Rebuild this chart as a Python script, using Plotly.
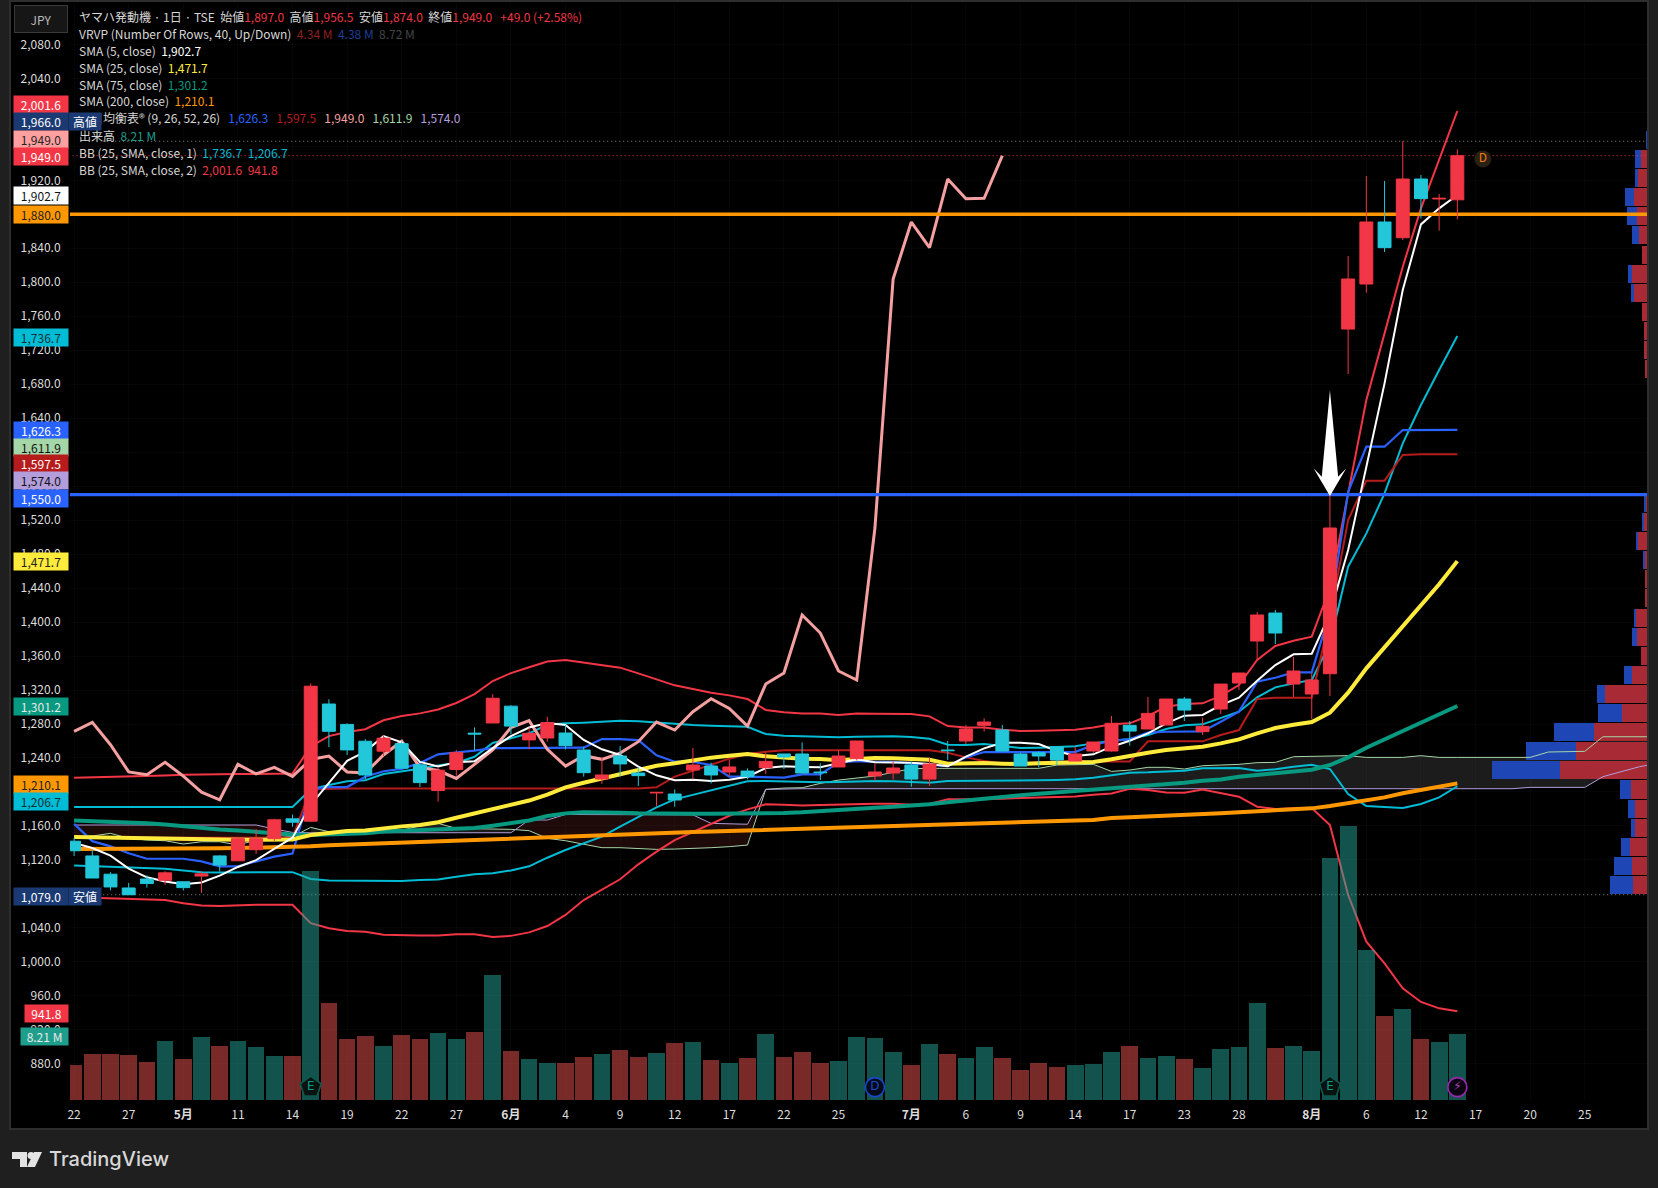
import plotly.graph_objects as go

# ---------- data (index 0 = first visible session) ----------
tick_index = [0,3,6,9,12,15,18,21,24,27,30,33,36,39,42,46,49,52,55,58,61,64,68,71,74,77,80,83]
tick_text = ["22","27","<b>5月</b>","11","14","19","22","27","<b>6月</b>","4","9","12","17","22","25","<b>7月</b>","6","9","14","17","23","28","<b>8月</b>","6","12","17","20","25"]
price_ticks = [880,920,960,1000,1040,1080,1120,1160,1200,1240,1280,1320,1360,1400,1440,1480,1520,1560,1600,1640,1680,1720,1760,1800,1840,1880,1920,1960,2000,2040,2080]

highs = [1146,1132,1105.6,1093,1102,1106.8,1094.3,1106.8,1125.5,1147,1156.3,1168.4,1173.3,1327.8,1309,1280.7,1262.5,1266.6,1259.7,1233.3,1228.4,1249.5,1275.9,1315.2,1302.2,1275.9,1288.6,1279,1253.3,1240.7,1254,1229,1199.5,1203,1251.7,1234.5,1237.6,1227.8,1246.2,1244.7,1258.4,1233.7,1249.4,1260,1233.7,1236,1235.6,1240.7,1260,1278.8,1286.7,1278.8,1246.2,1247.8,1253.3,1253.3,1258.8,1289.4,1283.5,1311.8,1309.4,1311.8,1287.4,1327,1340,1411.8,1414.2,1358.8,1340,1552,1830.9,1925,1919.1,1966,1926.2,1903.8,1956.5]
lows = [1124.7,1098.7,1084.1,1079,1087.4,1091,1084,1081.3,1106.4,1119,1127,1142,1159,1164.4,1252.8,1243.5,1215,1242.2,1227.2,1205.8,1188.7,1219.1,1248.7,1281.2,1267.8,1250.3,1259.2,1250.2,1218,1209.4,1218,1207,1183.5,1182.7,1214.8,1210,1218.8,1214.8,1221.1,1227,1222.3,1214.1,1229.4,1237.2,1213.3,1214.8,1206.2,1207,1237.6,1256.4,1271,1248.2,1230.5,1229,1231.7,1236.4,1246.2,1247.4,1254.5,1274.1,1278.8,1283.5,1267,1291.7,1320,1355.3,1374.1,1311.8,1285.8,1312.9,1691.9,1787.7,1835.6,1849.7,1875,1860.7,1874]
body_top = [1142,1124.7,1103.2,1087,1097.5,1104.8,1094.3,1103.6,1124.7,1145,1145,1167.2,1168.4,1324.5,1303.5,1279.5,1259.7,1263.3,1256.8,1232,1225.6,1246.3,1269.2,1310.3,1301,1269,1281.6,1269.4,1249.4,1220,1242.3,1222.3,1199.5,1197.6,1231.7,1230.5,1229.4,1224.6,1236,1244.7,1244.7,1223.5,1242.3,1260,1223.5,1228.2,1231.7,1232.9,1249.4,1274.1,1282.3,1272.9,1244.7,1246.2,1253.3,1244.7,1258.8,1280.8,1278.4,1292.5,1309.4,1309.4,1277.2,1327,1340,1408.3,1410.6,1342.4,1331.8,1510.7,1803.8,1870.9,1870.9,1921.5,1921.5,1898.8,1949]
body_bot = [1130.8,1098.7,1088.2,1079,1092.2,1096,1087.4,1101,1114,1119,1132,1145,1164.4,1165.6,1271.4,1249.5,1220,1248,1228,1211,1201.7,1226.4,1268.2,1281.2,1277.5,1261.3,1263.5,1254.5,1222.7,1215.2,1233,1219.2,1198.8,1190.5,1225.8,1220,1223.5,1218,1228.6,1241.1,1222.3,1222.7,1229.4,1239.2,1218.8,1222.3,1215.2,1215.2,1248.6,1260,1278.4,1248.2,1230.5,1242.3,1237.6,1236.4,1248.2,1248.2,1271.7,1274.1,1278.8,1296.4,1271,1297.6,1328.2,1377.7,1387.1,1327,1315.3,1339.2,1744.9,1797.9,1840.7,1852.4,1898.4,1898,1897]
candle_up = [0,0,0,0,0,1,0,1,0,1,1,1,0,1,0,0,0,1,0,0,1,1,0,1,0,1,1,0,0,1,0,0,1,0,1,0,1,0,1,0,0,0,1,1,1,1,0,1,0,1,1,0,0,0,0,1,1,1,0,1,1,0,1,1,1,1,0,1,1,1,1,1,0,1,0,1,1]

volume_m = [4.37,5.78,5.78,5.65,4.76,7.37,5.14,7.88,6.77,7.28,6.64,5.53,5.53,28.5,12.1,7.63,8.01,6.77,8.14,7.63,8.27,7.63,8.40,15.5,6.13,5.14,4.63,4.60,5.35,5.72,6.22,5.35,5.85,7.09,7.22,4.98,4.60,5.23,8.21,5.35,5.97,4.60,4.85,7.84,7.71,5.97,4.35,6.97,5.72,5.23,6.59,5.23,3.73,4.60,4.11,4.35,4.48,5.97,6.72,5.23,5.47,5.10,3.98,6.34,6.59,12.07,6.47,6.72,6.10,30.1,34.1,18.66,10.45,11.32,7.59,7.22,8.21]
volume_up = [1,1,1,1,1,0,1,0,1,0,0,0,1,0,1,1,1,0,1,1,0,0,1,0,1,0,0,1,1,0,1,1,0,1,0,1,0,1,0,1,1,1,0,0,0,0,1,0,1,0,0,1,1,1,1,0,0,0,1,0,0,1,0,0,0,0,1,0,0,0,0,0,1,0,1,0,0]

sma5 = [1140,1134,1125.1,1109.7,1099.5,1094.7,1091.4,1093.4,1101.5,1111.7,1119.8,1132.8,1146.2,1184.7,1211,1236.6,1247.5,1265.7,1258.5,1235.3,1230,1234.9,1236.2,1251.6,1265.7,1275.9,1281.2,1278.8,1261.2,1250.2,1243.5,1229.8,1219.6,1213.7,1214.5,1212.9,1214.5,1218,1228.2,1230.2,1229.4,1229,1233.7,1238.4,1234.9,1234.9,1234.5,1232.9,1230.2,1241.5,1251.3,1258,1258,1256.4,1248.2,1242.3,1244.3,1253.3,1260.3,1269,1280.8,1289.8,1290.6,1302.3,1311,1331,1349.4,1362,1362.8,1410,1484.8,1582.9,1681,1790.8,1868.1,1887,1902.7]
sma25 = [1147,1146.6,1146.2,1145.8,1145.3,1144.5,1143.7,1143.3,1143.3,1143.7,1143.7,1143.7,1144.1,1149.4,1152.2,1153.9,1154.7,1157.5,1159.5,1161.2,1164.4,1169.7,1174.5,1179.8,1184.7,1189.9,1196.8,1205.4,1210.9,1216,1221.1,1226.6,1230.9,1233.7,1237.2,1240.4,1242.7,1244.7,1241.9,1240,1239.2,1238.8,1237.2,1238.8,1240,1239.6,1238.8,1238,1233.3,1234.1,1234.1,1233.3,1232.9,1233.7,1234.1,1234.5,1235.3,1238.4,1242.7,1246.2,1249.4,1251.7,1253.3,1257.2,1261.9,1269,1275.3,1279.2,1282.3,1293.3,1316.9,1345.5,1369.8,1395.3,1420,1444.4,1471.7]
sma75 = [1166.4,1165.6,1164.8,1164.4,1163.2,1161.6,1159.5,1157.5,1155.9,1154.7,1153,1151.4,1149.8,1149.4,1149.8,1150.6,1151.4,1153.5,1154.3,1155.5,1155.9,1156.3,1157.5,1160.3,1163.6,1166.4,1171.7,1174.8,1176,1176,1175.6,1174.8,1174.4,1174.4,1174.4,1174.4,1174.4,1174.4,1174.4,1175.2,1176,1177.6,1179.1,1180.3,1181.5,1182.7,1183.8,1185.4,1187.8,1190.1,1192.1,1194,1196,1198,1199.5,1201.1,1202.7,1204.6,1206.2,1207.8,1209.3,1210.9,1213.3,1214.8,1218,1220.3,1222.3,1224.2,1226.2,1231.7,1240.7,1252.1,1261.9,1272.1,1282.3,1292.5,1301.2]
sma200 = [1132.8,1132.8,1132.8,1133.2,1133.2,1133.2,1133.2,1133.6,1133.6,1134,1134.4,1134.8,1135.2,1136,1137.2,1138,1138.9,1140.1,1140.9,1141.7,1142.1,1142.9,1143.7,1144.5,1145.3,1146.2,1147,1148.2,1148.8,1149.6,1150.2,1150.8,1151.5,1152.2,1152.8,1153.4,1154,1154.5,1155,1155.8,1156.4,1157,1157.6,1158.3,1159,1159.7,1160.4,1161.1,1161.7,1162.4,1163,1163.6,1164.3,1165,1165.7,1166.3,1167,1169.4,1170.2,1171,1171.9,1172.7,1173.6,1174.9,1176.2,1177.6,1178.7,1179.7,1180.7,1183.4,1186.6,1189.7,1193.6,1198.4,1202.3,1206.2,1210.1]
tenkan = [1162.4,1142.1,1136,1127.9,1121.4,1121.4,1121.4,1118.2,1112.5,1112.5,1117.8,1123.9,1127.5,1202.9,1205.8,1205.8,1217.9,1224.4,1227.2,1234.1,1244.3,1246.3,1248.7,1251.6,1251.6,1251.6,1251.6,1252.1,1252.1,1262.3,1262.3,1261.1,1243.1,1235.6,1235.3,1231.7,1218,1218,1217.2,1216.8,1220.7,1220.7,1234.9,1236.4,1235.3,1235.3,1233.7,1231.7,1230.5,1240.7,1247,1247,1246.6,1247,1247,1247,1255.3,1260.3,1261.9,1269.8,1270.9,1270.9,1271.3,1282.7,1294.5,1329.8,1334.5,1340.8,1340.8,1411.8,1553.4,1606.4,1606.4,1626,1626.3,1626.3,1626.3]
kijun = [1146.2,1146.2,1146.2,1146.2,1146.2,1146.2,1146.2,1146.2,1146.2,1146.2,1146.2,1146.2,1146.2,1203.3,1204,1204,1204,1204,1204,1204,1204,1204,1204,1204,1204,1204,1204,1204,1204,1204,1204,1204,1205.4,1218,1225,1231.7,1239.2,1244.7,1247.4,1249,1249,1249,1249,1249,1249,1249,1249,1249,1246.2,1240.7,1236.4,1233.7,1234,1235,1236,1236,1236,1236,1236,1259.6,1259.6,1259.6,1259.6,1267,1272.9,1309.4,1311,1311,1311,1406,1520.1,1566.4,1566.4,1596.6,1597.5,1597.5,1597.5]
chikou = [1271.4,1282,1255.6,1223.6,1220.3,1235,1218.7,1199.7,1190.8,1232.5,1221.2,1228.9,1218.3,1238.2,1242.2,1223.6,1222.4,1243.5,1259.7,1228.9,1225.2,1215.9,1232.5,1249.5,1275.9,1284,1250.2,1230.5,1242.7,1238.4,1245.8,1259.2,1282.3,1272.9,1294.5,1309.8,1298.4,1277.6,1327,1340,1408.3,1387.1,1342.4,1331.8,1510.7,1803.8,1870.9,1840.7,1921.5,1898.4,1898.8,1949]
senkou_a = [1147.3,1148.1,1151.3,1145.4,1143.4,1142.6,1138.7,1141.4,1141.4,1137.5,1143.4,1149.3,1147.3,1158.3,1153.2,1152.3,1153,1153.8,1155,1160,1163,1157.1,1156.8,1156.4,1156,1154.4,1145.4,1142.6,1138.7,1134.4,1134.4,1133.6,1132.4,1132.8,1133.2,1134.4,1135.6,1137.5,1203.1,1204.6,1205,1210.1,1214,1216,1218.8,1223.1,1227.4,1227.8,1227.8,1227.8,1227.8,1227.8,1227.8,1227.8,1231.7,1232.1,1232.5,1224.2,1225.8,1229,1229,1227,1230.9,1231.7,1232.5,1234.5,1234.8,1241.5,1241.9,1242.7,1242.7,1240.7,1240.7,1240.7,1242.7,1240.7,1240.7,1240.7,1240.7,1240.7,1240.7,1247,1247.4,1247.8,1265,1265,1265,1265]
senkou_b = [1161.1,1161.1,1161.1,1161.1,1161.1,1161.1,1161.1,1161.1,1161.1,1161.1,1161.1,1156.4,1152.4,1152,1152,1152,1152,1152,1152,1152,1152,1152,1152,1152,1152,1167,1167,1173.5,1173.5,1173.5,1173.5,1173.5,1173.5,1173.5,1173,1163,1162.5,1162,1203,1203.8,1203.8,1203.8,1203.8,1203.8,1203.8,1203.8,1203.8,1203.8,1203.8,1203.8,1203.8,1203.8,1203.8,1203.8,1203.8,1203.8,1203.8,1203.8,1203.8,1203.8,1203.8,1203.8,1203.8,1203.8,1203.8,1203.8,1203.8,1203.8,1203.8,1203.8,1203.8,1203.8,1203.8,1203.8,1203.8,1203.8,1203.8,1203.8,1203.8,1203.8,1205.4,1205.4,1205.4,1205.4,1218,1223.9,1229.7,1233.7]
bb1_upper = [1182.2,1182.2,1182.4,1182.4,1182.6,1182.6,1182.6,1182.6,1182.6,1182.8,1182.8,1182.8,1182.2,1202.9,1208.2,1212.6,1213.9,1221.2,1224.4,1227.2,1231.3,1234.1,1241.4,1257.6,1263.3,1269,1279,1280.8,1281.6,1282.7,1283.9,1283.1,1281.6,1280,1278.8,1278,1277.6,1276.8,1268.2,1266.2,1265.5,1265.1,1264.3,1265.1,1265.5,1265.5,1264.7,1262.7,1255.7,1255.3,1256.4,1254.1,1251.7,1252.1,1252.9,1253.7,1257.2,1260.3,1262.3,1267,1274.1,1278.4,1279.6,1286.6,1294.5,1311.4,1323.1,1327.8,1331.8,1374.9,1465.2,1504.4,1551.5,1610.3,1655.5,1696.7,1736.7]
bb1_lower = [1113.3,1112.5,1111.3,1110.5,1110.1,1109.7,1107.6,1105.6,1105.2,1105.6,1105.2,1105.6,1105.6,1097.5,1095.9,1095.5,1095.1,1094.7,1095.1,1096.3,1097.1,1100.3,1103.2,1104.4,1107.6,1112.5,1122.6,1131.7,1139.5,1147.4,1159.1,1170.9,1181.9,1191.3,1196.4,1201.5,1207,1212.5,1212.9,1212.1,1211.3,1211.3,1211.7,1212.5,1212.9,1212.5,1211.3,1210.9,1212.9,1212.9,1212.9,1213.3,1213.7,1213.7,1214.1,1214.9,1216.8,1219.5,1222.7,1223.1,1224.2,1225,1227.8,1228.2,1228.2,1225,1226.6,1229.7,1232.1,1227,1197.6,1183.4,1181.9,1181.1,1185.8,1193.6,1206.7]
bb2_upper = [1216.7,1217.1,1217.9,1218.7,1219.1,1219.5,1220.3,1220.8,1220.8,1221.2,1221.2,1221.6,1221.6,1253.6,1265.7,1270.6,1273.9,1284.4,1289.3,1292.5,1297,1304.7,1315.2,1330.6,1339.9,1346.8,1353.6,1355.3,1352.2,1348.7,1346.3,1339.6,1332.6,1325.5,1321.2,1316.9,1313.7,1309.4,1296.5,1293.7,1292.5,1292.5,1290.6,1292.5,1292.2,1292.2,1291.8,1289,1277.6,1276,1276,1273.3,1271.7,1272.1,1272.5,1273.3,1276,1279.6,1280.8,1289.4,1300.4,1303.5,1304.3,1313,1325.9,1355.3,1371.8,1378,1382.8,1440,1551.5,1661.3,1739.8,1818.3,1887,1943.9,2001.6]
bb2_lower = [1076,1075.2,1075,1074.4,1073.6,1072.8,1069.1,1066.3,1065.9,1066.7,1067.1,1067.1,1067.1,1045.6,1039.5,1036.3,1035.5,1031.8,1031,1031,1031,1032.6,1032.6,1029.4,1030.6,1034.7,1042.2,1055.2,1072.8,1085.4,1097.2,1114.8,1129.7,1143.4,1153.2,1163,1172,1179.5,1185.4,1185,1184.2,1184.6,1185.4,1185.4,1186.2,1186.2,1185,1185.8,1191.3,1191.3,1191.3,1192.1,1192.9,1193.3,1194,1194.8,1196.8,1198.3,1203.8,1202.3,1199.5,1199.1,1203,1199.1,1194.4,1182.7,1179.9,1180.7,1181.1,1161.1,1078.7,1023.8,998.3,968.9,952.8,945.3,941.8]

# volume profile, one row per price bucket
vp_price = [1090.4,1112.9,1135.4,1157.9,1180.4,1202.9,1225.3,1247.8,1270.3,1292.8,1315.3,1337.8,1360.3,1382.8,1405.3,1427.8,1450.2,1472.7,1495.2,1517.7,1540.2,1562.7,1585.2,1607.7,1630.2,1652.7,1675.1,1697.6,1720.1,1742.6,1765.1,1787.6,1810.1,1832.6,1855.1,1877.6,1900,1922.5,1945,1967.5]
vp_up = [14.2,15.3,17.4,11.7,11.7,16.4,87.2,71.2,53.4,25.3,42,15.3,6.4,10.3,11.7,1.4,1.4,1.8,9.3,2.8,1.4,0,0,0,0,0,0,2.5,3.2,3.2,5.3,13.2,15.3,5.3,8.2,10.3,13.2,9.3,6.4,0]
vp_down = [23.1,18.1,8.9,4.6,7.5,11,68,50.2,39.9,24.2,8.2,8.2,0,5,1.4,0,0,2.5,2.1,2.5,1.8,0,0,0,0,0,0,0,0,0,0,3.2,3.9,0,7.1,10,9.3,3.2,6,0.4]

horizontal_levels = [1880, 1550]
session_high, last_close, session_low = 1966, 1949, 1079

assert all(len(a) == 77 for a in [highs,lows,body_top,body_bot,candle_up,volume_m,volume_up,sma5,sma25,sma75,sma200,tenkan,kijun,bb1_upper,bb1_lower,bb2_upper,bb2_lower])
assert len(chikou) == 52 and len(senkou_a) == 88 and len(senkou_b) == 88
assert len(vp_price) == 40 and len(vp_up) == 40 and len(vp_down) == 40

# ---------- styling ----------
W, H = 1658, 1188
L, R, T, B = 70, 1647, 3, 1100
FONT = "Noto Sans CJK JP"
RED, TEAL, CYAN = "#F23645", "#22C7DA", "#00BCD4"
YEL, GRN, ORG, BLUE = "#FFEB3B", "#089981", "#FF9800", "#2962FF"
NAVY = "#1B3A74"
px = lambda v: (v - L) / (R - L)
py = lambda v: (B - v) / (B - T)

idx = list(range(77))
opens = [b if u else t for t, b, u in zip(body_top, body_bot, candle_up)]
closes = [t if u else b for t, b, u in zip(body_top, body_bot, candle_up)]

fig = go.Figure()

# profile on the base subplot so everything else is above it
fig.add_trace(go.Bar(y=vp_price, x=vp_up, orientation="h", width=21.2, marker=dict(color="#A82A34", line_width=0), xaxis="x", yaxis="y"))
fig.add_trace(go.Bar(y=vp_price, x=vp_down, orientation="h", width=21.2, marker=dict(color="#1E47B5", line_width=0), xaxis="x", yaxis="y"))

def cloud(a, b, color):
    # shape in the below layer: under the profile and every trace
    top = [f"{i} {senkou_a[i]}" for i in range(a, b + 1)]
    bot = [f"{i} {senkou_b[i]}" for i in range(b, a - 1, -1)]
    return dict(type="path", xref="x2", yref="y", layer="below", fillcolor=color, line=dict(width=0),
                path="M " + " L ".join(top + bot) + " Z")

clouds = [cloud(0, 12, "#1F0A0A"), cloud(13, 24, "#1C1C1C"), cloud(24, 38, "#1F0A0A"), cloud(38, 87, "#1C1C1C")]

def line(y, color, width, x=None, dash=None):
    fig.add_trace(go.Scatter(x=x if x is not None else list(range(len(y))), y=y, mode="lines",
                             line=dict(color=color, width=width, dash=dash), xaxis="x2", yaxis="y"))

line(senkou_a, "#A5D6A7", 1)
line(senkou_b, "#B39DDB", 1)
line(bb2_upper, RED, 2); line(bb2_lower, RED, 2)
line(bb1_upper, CYAN, 2); line(bb1_lower, CYAN, 2)
line(kijun, "#B71C1C", 2); line(tenkan, BLUE, 2.2)
line(chikou, "#F5A0A0", 3)
line(sma200, ORG, 4); line(sma75, GRN, 4); line(sma25, YEL, 4); line(sma5, "#FFFFFF", 2)
line([horizontal_levels[0]] * 2, ORG, 3.4, x=[-0.3, 87])
line([horizontal_levels[1]] * 2, BLUE, 3.4, x=[-0.3, 87])
line([session_high] * 2, "#8a8a8a", 1, x=[1.6, 87], dash="1px,3px")
line([last_close] * 2, RED, 1, x=[-0.3, 87], dash="1px,3px")
line([session_low] * 2, "#8a8a8a", 1, x=[1.6, 87], dash="1px,3px")

fig.add_trace(go.Candlestick(x=idx, open=opens, high=highs, low=lows, close=closes, whiskerwidth=0,
                             increasing=dict(line=dict(color=RED, width=1), fillcolor=RED),
                             decreasing=dict(line=dict(color=TEAL, width=1), fillcolor=TEAL),
                             xaxis="x2", yaxis="y2"))
fig.add_trace(go.Scatter(x=[77.4], y=[1945], mode="markers+text", text=["D"], textposition="middle center",
                         textfont=dict(color="#F57C00", size=12, family=FONT),
                         marker=dict(size=17, color="#2B2014"), xaxis="x2", yaxis="y2"))

fig.add_trace(go.Bar(x=idx, y=volume_m, width=0.92,
                     marker=dict(color=["rgba(239,83,80,0.5)" if u else "rgba(38,166,154,0.5)" for u in volume_up], line_width=0),
                     xaxis="x2", yaxis="y3"))

def badge(i, label, symbol, fill, edge, txt, size):
    fig.add_trace(go.Scatter(x=[i], y=[1.6], mode="markers+text", text=[label], textposition="middle center",
                             textfont=dict(color=txt, size=12, family="DejaVu Sans"),
                             marker=dict(symbol=symbol, size=size, color=fill, line=dict(color=edge, width=1.6)),
                             xaxis="x2", yaxis="y3"))
badge(13, "E", "pentagon", "#08130F", "#0D5A50", "#0C9C85", 22)
badge(69, "E", "pentagon", "#08130F", "#0D5A50", "#0C9C85", 22)
badge(44, "D", "circle", "#050A18", "#1848CC", "#1848CC", 19)
badge(76, "⚡", "circle", "#0C0412", "#9C27B0", "#AB47BC", 19)

# ---------- page furniture ----------
shapes = [
    dict(type="rect", xref="paper", yref="paper", x0=px(10), x1=px(1648), y0=py(1), y1=py(1129), layer="below",
         fillcolor="#000000", line=dict(color="#2E2E2E", width=2)),
    *clouds,
    dict(type="path", xref="x2", yref="y", fillcolor="#FFFFFF", line=dict(width=0), layer="above",
         path="M 69 1673 L 69.45 1571 L 69.9 1581 L 69 1548.3 L 68.1 1581 L 68.55 1571 Z"),
    # TradingView mark
    dict(type="path", xref="paper", yref="paper", fillcolor="#E3E3E3", line=dict(width=0),
         path=f"M {px(12)} {py(1152)} L {px(27)} {py(1152)} L {px(27)} {py(1167)} L {px(20)} {py(1167)} L {px(20)} {py(1159)} L {px(12)} {py(1159)} Z"),
    dict(type="circle", xref="paper", yref="paper", fillcolor="#E3E3E3", line=dict(width=0),
         x0=px(27.5), x1=px(34.5), y0=py(1152), y1=py(1159)),
    dict(type="path", xref="paper", yref="paper", fillcolor="#E3E3E3", line=dict(width=0),
         path=f"M {px(34)} {py(1152)} L {px(42)} {py(1152)} L {px(35)} {py(1167)} L {px(27)} {py(1167)} Z"),
]

ann = []
def row(y, text):
    ann.append(dict(xref="paper", yref="paper", x=px(76.5), y=py(y), xanchor="left", yanchor="middle", showarrow=False,
                    align="left", text=text, font=dict(family=FONT, size=12, color="#D6D6D6")))
def c(color, s):
    return f'<span style="color:{color}">{s}</span>'
sp = "\u00a0\u00a0"
sp3 = "\u00a0\u00a0\u00a0"
row(16.5, f"ヤマハ発動機 · 1日 · TSE{sp}始値{c(RED,'1,897.0')}{sp}高値{c(RED,'1,956.5')}{sp}安値{c(RED,'1,874.0')}{sp}終値{c(RED,'1,949.0')}{sp3}{c(RED,'+49.0 (+2.58%)')}")
row(33, f"VRVP (Number Of Rows, 40, Up/Down){sp}{c('#8F1F1F','4.34 M')}{sp}{c('#1E3F9A','4.38 M')}{sp}{c('#444444','8.72 M')}")
row(50, f"SMA (5, close){sp}{c('#FFFFFF','1,902.7')}")
row(67, f"SMA (25, close){sp}{c(YEL,'1,471.7')}")
row(84, f"SMA (75, close){sp}{c(GRN,'1,301.2')}")
row(101, f"SMA (200, close){sp}{c(ORG,'1,210.1')}")
row(118, f"一目均衡表® (9, 26, 52, 26){sp3}{c(BLUE,'1,626.3')}{sp3}{c('#B71C1C','1,597.5')}{sp3}{c('#F5A0A0','1,949.0')}{sp3}{c('#A5D6A7','1,611.9')}{sp3}{c('#B39DDB','1,574.0')}")
row(135.5, f"出来高{sp}{c('#1F9E8C','8.21 M')}")
row(152.5, f"BB (25, SMA, close, 1){sp}{c(CYAN,'1,736.7')}{sp}{c(CYAN,'1,206.7')}")
row(169.5, f"BB (25, SMA, close, 2){sp}{c(RED,'2,001.6')}{sp}{c(RED,'941.8')}")

def box(y, text, bg, fg, left=15, right=69):
    ann.append(dict(xref="paper", yref="paper", x=px(right), y=py(y), xanchor="right", yanchor="middle", showarrow=False,
                    width=right - left, height=17, borderpad=0, bgcolor=bg, align="center", text=text,
                    font=dict(family=FONT, size=12, color=fg)))

box(105, "2,001.6", RED, "#FFFFFF")
box(122, "1,966.0", NAVY, "#FFFFFF")
box(139, "1,949.0", "#FFA0A0", "#222222")
box(156, "1,949.0", RED, "#FFFFFF")
box(196, "1,902.7", "#FFFFFF", "#111111")
box(215, "1,880.0", ORG, "#222222")
box(337, "1,736.7", CYAN, "#123038")
box(430, "1,626.3", BLUE, "#FFFFFF")
box(447, "1,611.9", "#A5D6A7", "#111111")
box(464, "1,597.5", "#B71C1C", "#FFFFFF")
box(481, "1,574.0", "#B39DDB", "#111111")
box(498, "1,550.0", BLUE, "#FFFFFF")
box(561, "1,471.7", YEL, "#222222")
box(706, "1,301.2", GRN, "#E8E8E8")
box(784, "1,210.1", ORG, "#222222")
box(801, "1,206.7", CYAN, "#123038")
box(896, "1,079.0", NAVY, "#FFFFFF")
box(1013, "941.8", RED, "#FFFFFF", left=26)
box(1036, "8.21 M", "#1F9E8C", "#E8E8E8", left=22)
box(122, "高値", NAVY, "#FFFFFF", left=70, right=102)
box(896, "安値", NAVY, "#FFFFFF", left=70, right=102)

ann.append(dict(xref="paper", yref="paper", x=px(40.5), y=py(19), xanchor="center", yanchor="middle", showarrow=False,
                width=50, height=24, bgcolor="#161616", bordercolor="#3A3A3A", borderwidth=1, text="JPY",
                font=dict(family=FONT, size=12, color="#BBBBBB")))
ann.append(dict(xref="paper", yref="paper", x=px(47), y=py(1159), xanchor="left", yanchor="middle", showarrow=False,
                text="TradingView", font=dict(family="Inter", size=20, weight=500, color="#D8D8D8")))

grid = "rgba(255,255,255,0.022)"
fig.update_layout(
    width=W, height=H, autosize=False, showlegend=False, barmode="stack", boxgap=0.29, boxgroupgap=0,
    margin=dict(l=L, r=W - R, t=T, b=H - B),
    paper_bgcolor="#1F1F1F", plot_bgcolor="rgba(0,0,0,0)",
    xaxis=dict(range=[R - L, 0], visible=False, fixedrange=True),
    xaxis2=dict(overlaying="x", anchor="y", side="bottom", range=[-0.225, 86.42], tickmode="array", tickvals=tick_index, ticktext=tick_text,
                tickfont=dict(family=FONT, size=12, color="#DDDDDD"), ticks="outside", ticklen=4, tickcolor="rgba(0,0,0,0)",
                showgrid=True, gridcolor=grid, gridwidth=1, zeroline=False, showline=False, rangeslider=dict(visible=False)),
    yaxis=dict(range=[837.4, 2128.7], side="left", tickmode="array", tickvals=price_ticks,
               ticktext=[f"{v:,.1f}" for v in price_ticks], tickfont=dict(family=FONT, size=12, color="#DDDDDD"),
               ticks="outside", ticklen=6, tickcolor="rgba(0,0,0,0)", showgrid=True, gridcolor=grid, zeroline=False, showline=False),
    yaxis2=dict(overlaying="y", range=[837.4, 2128.7], visible=False),
    yaxis3=dict(overlaying="y", range=[0, 136.4], visible=False),
    shapes=shapes, annotations=ann,
)

fig.write_html("out.html", config=dict(displayModeBar=False),
               post_script="document.body.style.margin='0';document.body.style.overflow='hidden';")
